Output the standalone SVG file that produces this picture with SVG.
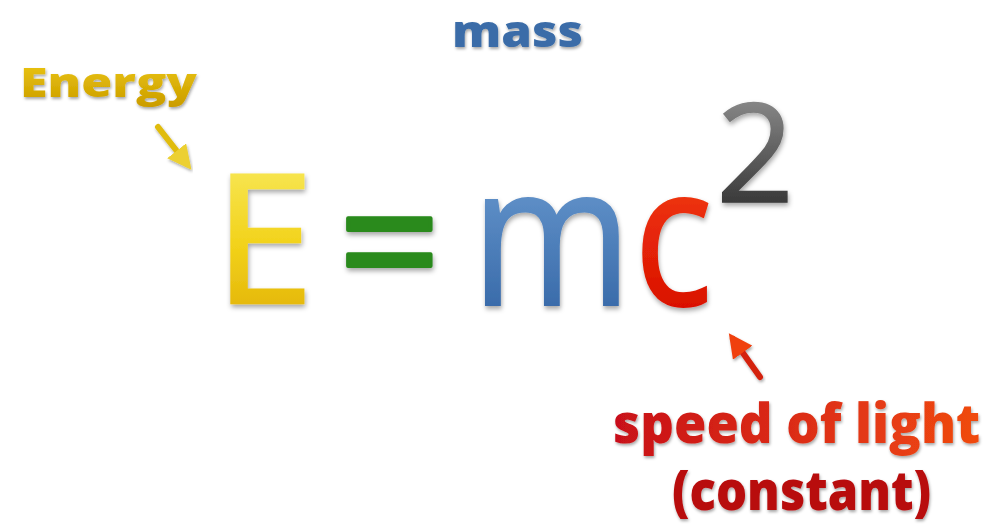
<svg xmlns="http://www.w3.org/2000/svg" width="987" height="526" viewBox="0 0 987 526">
<defs>
<linearGradient id="gE" x1="0" y1="0" x2="0" y2="1"><stop offset="0" stop-color="#fbf47a"/><stop offset="0.55" stop-color="#f2d21a"/><stop offset="1" stop-color="#dba400"/></linearGradient>
<linearGradient id="gEn" x1="0" y1="0" x2="0" y2="1"><stop offset="0" stop-color="#f0cc10"/><stop offset="1" stop-color="#c99a00"/></linearGradient>
<linearGradient id="gM" x1="0" y1="0" x2="0" y2="1"><stop offset="0" stop-color="#7eaee0"/><stop offset="1" stop-color="#285a9c"/></linearGradient>
<linearGradient id="gC" x1="0" y1="0" x2="0" y2="1"><stop offset="0" stop-color="#ff5010"/><stop offset="1" stop-color="#d00000"/></linearGradient>
<linearGradient id="g2" x1="0" y1="0" x2="0" y2="1"><stop offset="0" stop-color="#a8a8a8"/><stop offset="1" stop-color="#1c1c1c"/></linearGradient>
<linearGradient id="gS" x1="0" y1="0" x2="1" y2="0"><stop offset="0" stop-color="#c8101a"/><stop offset="1" stop-color="#f04a10"/></linearGradient>
<filter id="sh" x="-20%" y="-20%" width="140%" height="150%"><feDropShadow dx="1" dy="3" stdDeviation="2.5" flood-color="#000" flood-opacity="0.35"/></filter>
<filter id="sh2" x="-20%" y="-20%" width="140%" height="150%"><feDropShadow dx="1" dy="2" stdDeviation="1.5" flood-color="#000" flood-opacity="0.35"/></filter>
<marker id="ahY" viewBox="0 0 10 10" refX="7" refY="5" markerWidth="4" markerHeight="4" orient="auto"><path d="M0,0 L10,5 L0,10 z" fill="#ecd030"/></marker>
<marker id="ahB" viewBox="0 0 10 10" refX="7" refY="5" markerWidth="4" markerHeight="4" orient="auto"><path d="M0,0 L10,5 L0,10 z" fill="#6a9ed6"/></marker>
<marker id="ahR" viewBox="0 0 10 10" refX="7" refY="5" markerWidth="4" markerHeight="4" orient="auto"><path d="M0,0 L10,5 L0,10 z" fill="#f04010"/></marker>
</defs>
<style>
.big{font-family:"Open Sans","DejaVu Sans",sans-serif;font-weight:400}
.lab{font-family:"Open Sans","DejaVu Sans",sans-serif;font-weight:800}
.arr{fill:none;stroke-width:6;stroke-linecap:round}
</style>
<rect width="987" height="526" fill="#fff"/>
<g id="formula">
<text id="E" class="big" x="214" y="303" font-size="180" fill="url(#gE)" stroke="url(#gE)" stroke-width="2.5" filter="url(#sh)">E</text>
<text id="eq" class="big" x="338" y="305" font-size="180" fill="#2a8a1c" stroke="#2a8a1c" stroke-width="4" stroke-linejoin="round" filter="url(#sh)">=</text>
<g transform="translate(471,305) scale(0.887,1)"><text id="m" class="big" x="0" y="0" font-size="196" fill="url(#gM)" stroke="url(#gM)" stroke-width="2" filter="url(#sh)">m</text></g>
<g transform="translate(634,305) scale(0.84,1)"><text id="c" class="big" x="0" y="0" font-size="196" fill="url(#gC)" stroke="url(#gC)" stroke-width="2" filter="url(#sh)">c</text></g>
<text id="sq" class="big" x="716" y="202" font-size="137" fill="url(#g2)" stroke="url(#g2)" stroke-width="1.5" filter="url(#sh)">2</text>
</g>
<g id="energy"><text class="lab" x="20" y="97" font-size="40" textLength="177" lengthAdjust="spacingAndGlyphs" fill="url(#gEn)" filter="url(#sh2)">Energy</text></g>
<g id="mass"><text class="lab" x="452" y="47" font-size="44" textLength="131" lengthAdjust="spacingAndGlyphs" fill="#3a6ca8" filter="url(#sh2)">mass</text></g>
<g id="speed">
<g transform="translate(613,443) scale(0.955,1)"><text class="lab" x="0" y="0" font-size="55" fill="url(#gS)" filter="url(#sh2)">speed of light</text></g>
<g transform="translate(672,510) scale(0.89,1)"><text class="lab" x="0" y="0" font-size="55" fill="#b80e10" filter="url(#sh2)">(constant)</text></g>
</g>
<g id="connectors">
<line class="arr" x1="158" y1="127" x2="187" y2="164" stroke="#e0bc10" marker-end="url(#ahY)" filter="url(#sh2)"/>
<line class="arr" x1="525" y1="70" x2="525" y2="120" stroke="#4a7eb8" marker-end="url(#ahB)" filter="url(#sh2)"/>
<line class="arr" x1="760" y1="377" x2="733" y2="339" stroke="#d42010" marker-end="url(#ahR)" filter="url(#sh2)"/>
</g>
</svg>
